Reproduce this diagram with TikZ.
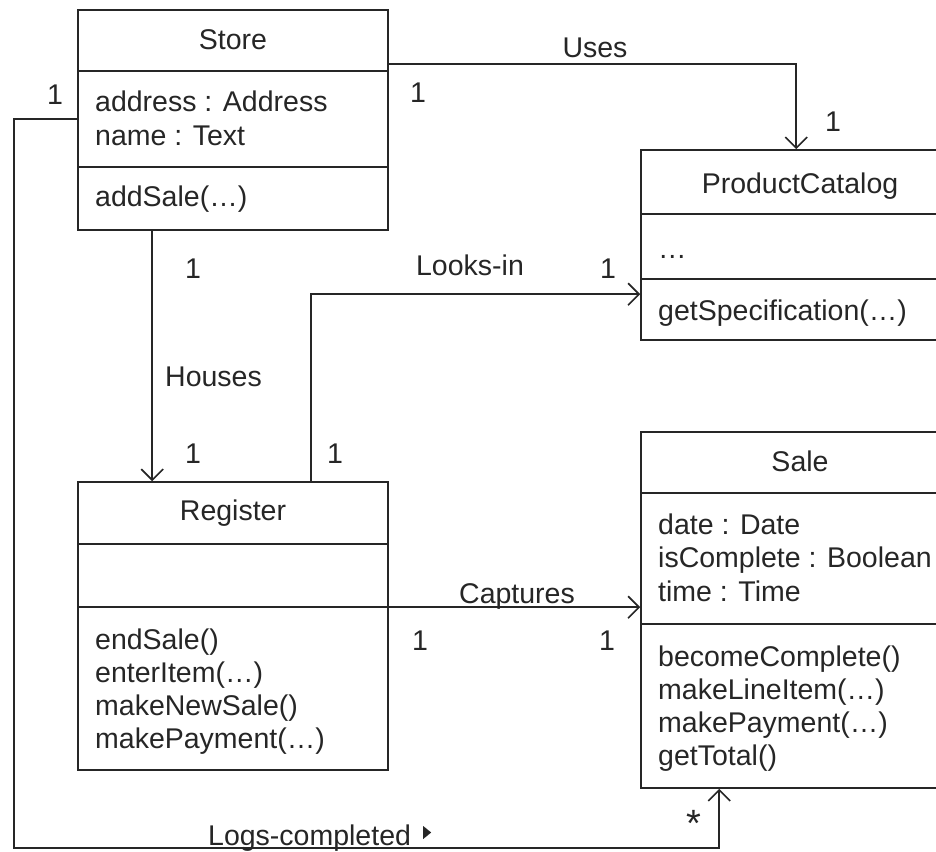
\documentclass[tikz,border=0pt]{standalone}
\usepackage{fontspec}
\setmainfont{Liberation Sans}
\usetikzlibrary{arrows.meta}
\definecolor{ink}{RGB}{38,38,38}
\tikzset{
  classbox/.style={draw=ink, line width=1.6pt, rectangle, inner sep=0pt},
  sep/.style={draw=ink, line width=1.6pt},
  txt/.style={inner sep=0pt, text=ink, font=\fontsize{28.5}{34}\selectfont, anchor=base west},
  ctxt/.style={txt, anchor=base},
  assoc/.style={draw=ink, line width=1.6pt, -{Straight Barb[length=11pt,width=22pt,line width=1.6pt]}},
  plain/.style={draw=ink, line width=1.6pt}
}
\begin{document}
\begin{tikzpicture}[x=1pt,y=-1pt]
\useasboundingbox (0,0) rectangle (936,851);
\clip (0,0) rectangle (936,851);
\fill[white] (0,0) rectangle (936,851);

% class boxes
\node[classbox, minimum width=310pt, minimum height=220pt] (store) at (233,120) {};
\node[classbox, minimum width=319pt, minimum height=190pt] (catalog) at (800.5,245) {};
\node[classbox, minimum width=310pt, minimum height=288pt] (register) at (233,626) {};
\node[classbox, minimum width=319pt, minimum height=356pt] (sale) at (800.5,610) {};

% separators
\draw[sep] ([yshift=-62pt]store.north west) -- ([yshift=-62pt]store.north east);
\draw[sep] ([yshift=-158pt]store.north west) -- ([yshift=-158pt]store.north east);
\draw[sep] ([yshift=-65pt]catalog.north west) -- ([yshift=-65pt]catalog.north east);
\draw[sep] ([yshift=-130pt]catalog.north west) -- ([yshift=-130pt]catalog.north east);
\draw[sep] ([yshift=-63pt]register.north west) -- ([yshift=-63pt]register.north east);
\draw[sep] ([yshift=-126pt]register.north west) -- ([yshift=-126pt]register.north east);
\draw[sep] ([yshift=-62pt]sale.north west) -- ([yshift=-62pt]sale.north east);
\draw[sep] ([yshift=-193pt]sale.north west) -- ([yshift=-193pt]sale.north east);

% Store texts
\node[ctxt] (storeT) at (233,50) {Store};
\node[txt] (storeA1) at (95,111) {address : Address};
\node[txt] (storeA2) at (95,145) {name : Text};
\node[txt] (storeO1) at (95,206) {addSale(…)};

% ProductCatalog texts
\node[ctxt] (catT) at (800,193) {ProductCatalog};
\node[txt] (catA1) at (658,258) {…};
\node[txt] (catO1) at (658,320) {getSpecification(…)};

% Register texts
\node[ctxt] (regT) at (233,520) {Register};
\node[txt] (regO1) at (95,649) {endSale()};
\node[txt] (regO2) at (95,682) {enterItem(…)};
\node[txt] (regO3) at (95,715.5) {makeNewSale()};
\node[txt] (regO4) at (95,748.5) {makePayment(…)};

% Sale texts
\node[ctxt] (saleT) at (800,471) {Sale};
\node[txt] (saleA1) at (658,534) {date : Date};
\node[txt] (saleA2) at (658,567.5) {isComplete : Boolean};
\node[txt] (saleA3) at (658,601) {time : Time};
\node[txt] (saleO1) at (658,666.5) {becomeComplete()};
\node[txt] (saleO2) at (658,699.5) {makeLineItem(…)};
\node[txt] (saleO3) at (658,732.5) {makePayment(…)};
\node[txt] (saleO4) at (658,765.5) {getTotal()};

% connectors
\draw[assoc] ([yshift=-55pt]store.north east) -| ([xshift=156pt]catalog.north west);
\draw[assoc] ([xshift=75pt]store.south west) -- ([xshift=75pt]register.north west);
\draw[assoc] ([xshift=234pt]register.north west) |- ([yshift=-145pt]catalog.north west);
\draw[assoc] ([yshift=-126pt]register.north east) -- ([yshift=-176pt]sale.north west);
\coordinate (lc) at (14,848);
\draw[assoc] ([yshift=-110pt]store.north west) -| (lc) -| ([xshift=79pt]sale.south west);

% labels
\node[ctxt] (usesL) at (595,57) {Uses};
\node[ctxt] (m1) at (418,102) {1};
\node[ctxt] (m2) at (833,131) {1};
\node[ctxt] (m3) at (55,104) {1};
\node[ctxt] (looksL) at (470,275) {Looks-in};
\node[ctxt] (m4) at (608,278) {1};
\node[ctxt] (m5) at (193,278) {1};
\node[txt] (housesL) at (165,386) {Houses};
\node[ctxt] (m6) at (193,463) {1};
\node[ctxt] (m7) at (335,463) {1};
\node[ctxt] (captL) at (517,603) {Captures};
\node[ctxt] (m8) at (420,650) {1};
\node[ctxt] (m9) at (607,650) {1};
\node[txt] (logsL) at (208,845) {Logs-completed};
\fill[ink] ([xshift=12pt,yshift=19pt]logsL.base east) -- ++(0,13) -- ++(8,-6.5) -- cycle;
\node[ctxt, font=\fontsize{38}{40}\selectfont] (m10) at (694,836) {*};
\end{tikzpicture}
\end{document}
